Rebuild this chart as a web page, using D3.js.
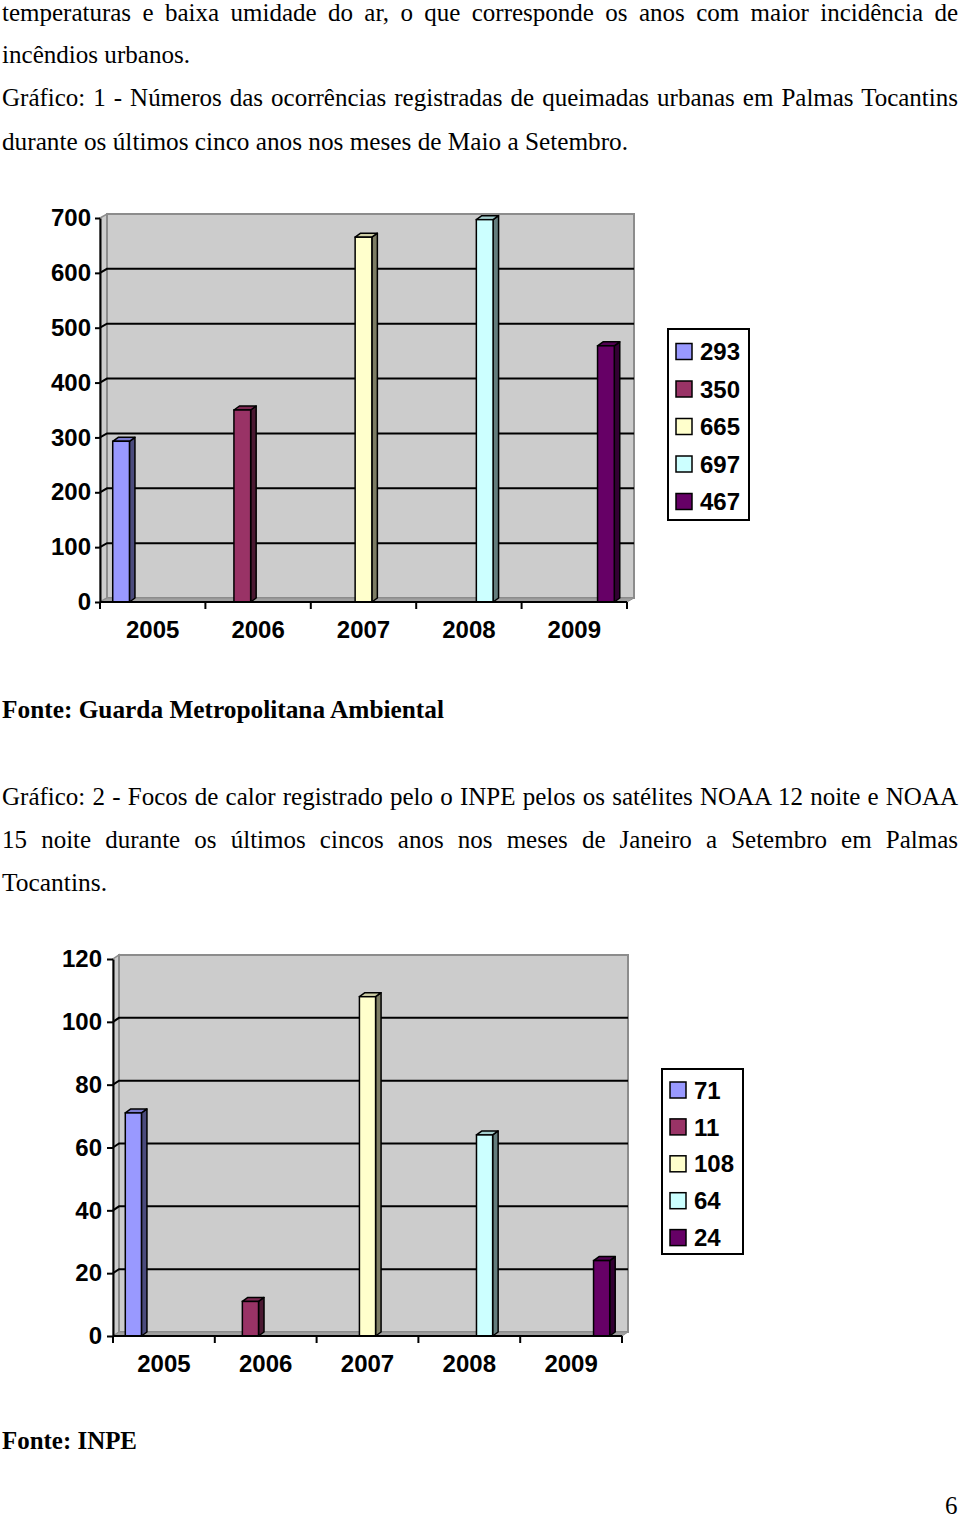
<!DOCTYPE html>
<html>
<head>
<meta charset="utf-8">
<script src="https://cdn.jsdelivr.net/npm/d3@7"></script>
<style>
  body { margin: 0; background: #fff; }
  svg { display: block; }
  .body-text { font-family: "Liberation Serif", "Times New Roman", serif; font-size: 25px; fill: #000; }
  .chart-text { font-family: "Liberation Sans", Arial, sans-serif; font-weight: bold; font-size: 24px; fill: #000; }
</style>
</head>
<body>
<div id="page"></div>
<script>
// categories and values
const years = ["2005", "2006", "2007", "2008", "2009"];
const occurrences = [293, 350, 665, 697, 467];   // gráfico 1
const occurrenceTicks = [0, 100, 200, 300, 400, 500, 600, 700];
const heatSpots = [71, 11, 108, 64, 24];          // gráfico 2
const heatSpotTicks = [0, 20, 40, 60, 80, 100, 120];
const seriesColors = ["#9999ff", "#993366", "#ffffcc", "#ccffff", "#660066"];

// text lines of the page
const pageLines = [
  {t: "temperaturas e baixa umidade do ar, o que corresponde os anos com maior incidência de", y: 21, w: 956, justify: true},
  {t: "incêndios urbanos.", y: 63, w: 188},
  {t: "Gráfico: 1 - Números das ocorrências registradas de queimadas urbanas em Palmas Tocantins", y: 106, w: 956, justify: true},
  {t: "durante os últimos cinco anos nos meses de Maio a Setembro.", y: 150, w: 626},
  {t: "Fonte: Guarda Metropolitana Ambiental", y: 718, w: 442, bold: true},
  {t: "Gráfico: 2 - Focos de calor registrado pelo o INPE pelos os satélites NOAA 12 noite e NOAA", y: 805, w: 956, justify: true},
  {t: "15 noite durante os últimos cincos anos nos meses de Janeiro a Setembro em Palmas", y: 848, w: 956, justify: true},
  {t: "Tocantins.", y: 891, w: 105},
  {t: "Fonte: INPE", y: 1449, w: 135, bold: true}
];

const W = 960, H = 1519;
const svg = d3.select("#page").append("svg")
    .attr("width", W)
    .attr("height", H);

svg.append("rect").attr("width", W).attr("height", H).attr("fill", "#fff");

// write a line of body text, justified or fitted to the measured width
function textLine(d) {
  const el = svg.append("text")
      .attr("class", "body-text")
      .attr("x", 2)
      .attr("y", d.y)
      .attr("font-weight", d.bold ? "bold" : null)
      .text(d.t);
  let natural = el.node().getComputedTextLength();
  if (d.justify) {
    if (natural > d.w) { // too long: shrink the font a little so it fits
      el.style("font-size", (25 * d.w / natural - 0.1) + "px");
      natural = el.node().getComputedTextLength();
    }
    const gaps = d.t.split(" ").length - 1;
    el.style("word-spacing", ((d.w - natural) / gaps) + "px");
  } else {
    el.attr("textLength", d.w).attr("lengthAdjust", "spacingAndGlyphs");
  }
}
pageLines.forEach(textLine);

svg.append("text")
    .attr("class", "body-text")
    .attr("x", 945)
    .attr("y", 1514)
    .text("6");

// 3d-look column chart, like the old excel one
function drawChart(values, ticks, box) {
  const g = svg.append("g");
  const dx = box.dx, dy = box.dy;

  const y = d3.scaleLinear()
      .domain([0, d3.max(ticks)])
      .range([box.baseY, box.topY]);

  const xYears = d3.scaleBand()
      .domain(years)
      .range([box.axisX, box.plotRight]);

  const xBars = d3.scaleBand()
      .domain(values.map(String))
      .range([box.axisX, box.plotRight])
      .paddingInner(0.862)
      .paddingOuter(0.105);

  const wallFill = "#cccccc", wallLine = "#8c8c8c";
  const top = y(d3.max(ticks)), base = y(0);

  // left side wall
  g.append("path")
      .attr("d", `M${box.axisX},${base}L${box.axisX},${top}L${box.axisX + dx},${top + dy}L${box.axisX + dx},${base + dy}Z`)
      .attr("fill", wallFill)
      .attr("stroke", wallLine)
      .attr("stroke-width", 1.5);

  // back wall
  g.append("rect")
      .attr("x", box.axisX + dx)
      .attr("y", top + dy)
      .attr("width", box.plotRight - box.axisX)
      .attr("height", base - top)
      .attr("fill", wallFill)
      .attr("stroke", wallLine)
      .attr("stroke-width", 2);

  // gridlines (on side wall and back wall)
  const inner = ticks.filter(t => t > 0 && t < d3.max(ticks));
  g.selectAll("path.grid")
    .data(inner)
    .join("path")
      .attr("class", "grid")
      .attr("d", t => `M${box.axisX},${y(t)}L${box.axisX + dx},${y(t) + dy}L${box.plotRight + dx},${y(t) + dy}`)
      .attr("fill", "none")
      .attr("stroke", "#000")
      .attr("stroke-width", 2);

  // floor
  g.append("path")
      .attr("d", `M${box.axisX},${base}L${box.axisX + dx},${base + dy}L${box.plotRight + dx},${base + dy}L${box.plotRight},${base}Z`)
      .attr("fill", "#a0a0a0")
      .attr("stroke", wallLine)
      .attr("stroke-width", 1);

  // bars
  const bdx = 5.5, bdy = -4;
  const bars = g.selectAll("g.bar")
    .data(values)
    .join("g")
      .attr("class", "bar");

  bars.append("path") // side
      .attr("d", (d, i) => {
        const x = xBars(String(d)) + xBars.bandwidth(), yt = y(d);
        return `M${x},${yt}L${x + bdx},${yt + bdy}L${x + bdx},${base + bdy}L${x},${base}Z`;
      })
      .attr("fill", (d, i) => d3.color(seriesColors[i]).darker(2))
      .attr("stroke", "#000")
      .attr("stroke-width", 1.5)
      .attr("stroke-linejoin", "round");

  bars.append("path") // top
      .attr("d", (d, i) => {
        const x = xBars(String(d)), w = xBars.bandwidth(), yt = y(d);
        return `M${x},${yt}L${x + bdx},${yt + bdy}L${x + w + bdx},${yt + bdy}L${x + w},${yt}Z`;
      })
      .attr("fill", (d, i) => d3.color(seriesColors[i]).darker(0.6))
      .attr("stroke", "#000")
      .attr("stroke-width", 1.5)
      .attr("stroke-linejoin", "round");

  bars.append("rect") // front
      .attr("x", d => xBars(String(d)))
      .attr("y", d => y(d))
      .attr("width", xBars.bandwidth())
      .attr("height", d => base - y(d))
      .attr("fill", (d, i) => seriesColors[i])
      .attr("stroke", "#000")
      .attr("stroke-width", 1.5);

  // y axis
  const yAxis = g.append("g")
      .attr("transform", `translate(${box.axisX},0)`)
      .call(d3.axisLeft(y).tickValues(ticks).tickSize(box.tickLen).tickSizeOuter(0).tickPadding(box.tickPad));
  yAxis.attr("font-family", null).attr("font-size", null);
  yAxis.select(".domain").attr("stroke", "#000").attr("stroke-width", 2);
  yAxis.selectAll(".tick line").attr("stroke", "#000").attr("stroke-width", 2);
  yAxis.selectAll(".tick text")
      .attr("class", "chart-text")
      .attr("fill", null);

  // x axis
  g.append("line")
      .attr("x1", box.axisX).attr("x2", box.plotRight)
      .attr("y1", base).attr("y2", base)
      .attr("stroke", "#000").attr("stroke-width", 2);
  g.selectAll("line.xtick")
    .data(years.map(v => xYears(v)).concat([box.plotRight]))
    .join("line")
      .attr("class", "xtick")
      .attr("x1", d => d).attr("x2", d => d)
      .attr("y1", base).attr("y2", base + 7)
      .attr("stroke", "#000").attr("stroke-width", 2);
  g.selectAll("text.year")
    .data(years)
    .join("text")
      .attr("class", "chart-text year")
      .attr("x", d => xYears(d) + xYears.bandwidth() / 2)
      .attr("y", base + 36)
      .attr("text-anchor", "middle")
      .text(d => d);

  // legend
  const lg = g.append("g");
  lg.append("rect")
      .attr("x", box.legend.x).attr("y", box.legend.y)
      .attr("width", box.legend.w).attr("height", box.legend.h)
      .attr("fill", "#fff").attr("stroke", "#000").attr("stroke-width", 2);
  const item = lg.selectAll("g.item")
    .data(values)
    .join("g")
      .attr("class", "item")
      .attr("transform", (d, i) => `translate(${box.legend.x + 8},${box.legend.row0 + i * box.legend.step})`);
  item.append("rect")
      .attr("x", 0).attr("y", -8)
      .attr("width", 16).attr("height", 16)
      .attr("fill", (d, i) => seriesColors[i])
      .attr("stroke", "#000").attr("stroke-width", 1.5);
  item.append("text")
      .attr("class", "chart-text")
      .attr("x", 24)
      .attr("dy", "0.36em")
      .text(d => d);
}

drawChart(occurrences, occurrenceTicks, {
  axisX: 100, plotRight: 627, baseY: 602, topY: 218, dx: 7, dy: -4,
  tickLen: 5, tickPad: 4,
  legend: {x: 668, y: 329, w: 81, h: 191, row0: 351.5, step: 37.5}
});

drawChart(heatSpots, heatSpotTicks, {
  axisX: 113, plotRight: 622, baseY: 1336, topY: 959, dx: 6, dy: -4,
  tickLen: 6, tickPad: 5,
  legend: {x: 662, y: 1069, w: 81, h: 185, row0: 1090, step: 36.9}
});
</script>
</body>
</html>
